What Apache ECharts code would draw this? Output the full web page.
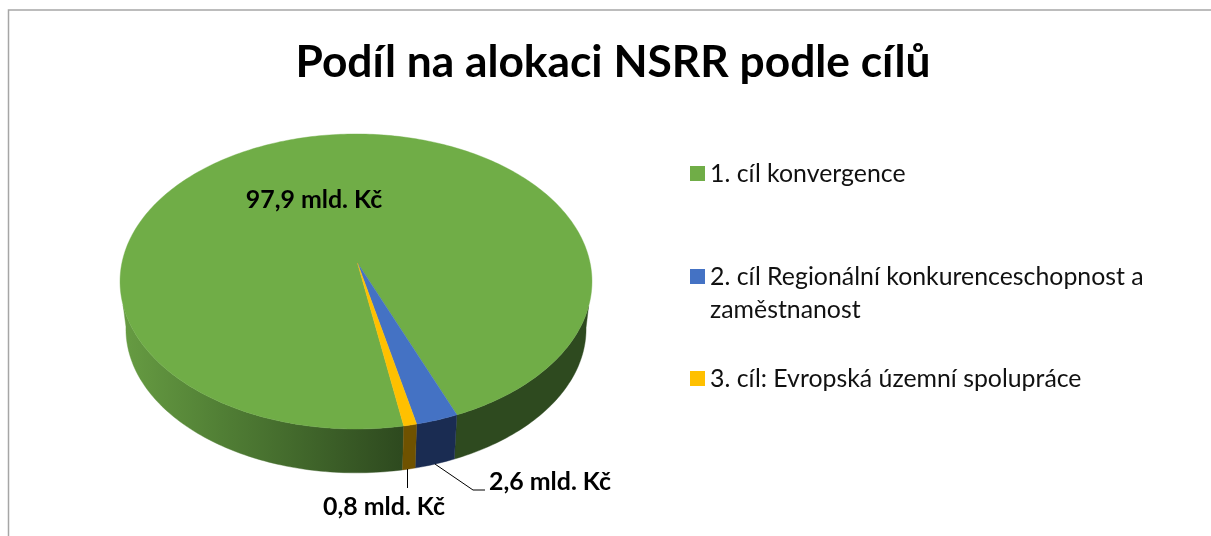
<!DOCTYPE html>
<html>
<head>
<meta charset="utf-8">
<style>
  html, body { margin: 0; padding: 0; background: #fff; }
  #chart { width: 1211px; height: 536px; }
</style>
<script src="https://cdn.jsdelivr.net/npm/echarts@6/dist/echarts.min.js"></script>
</head>
<body>
<div id="chart"></div>
<script>
// data
const titleText = 'Podíl na alokaci NSRR podle cílů';
const categories = [
  '1. cíl konvergence',
  '2. cíl Regionální konkurenceschopnost a zaměstnanost',
  '3. cíl: Evropská územní spolupráce',
];
const values = [97.9, 2.6, 0.8];
const unit = ' mld. Kč';

// vzhled
const colors = ['#70AD47', '#4472C4', '#FFC000'];
const sideColors = [null, '#1A2C52', '#6F5200'];
const fontFamily = 'Lato, "Noto Sans", sans-serif';
const startAngle = 169.7; // prvni vysec, ve stupnich po smeru hodin od vrsku

// perspektiva kolacku
const pie = { cx: 356, apexX: 357.5, y0: 263, a: 234.1, b: 145.2, p: 0.1254, y0Bottom: 311, scaleBottom: 0.975 };

const frontness = (angle) => -Math.cos((angle * Math.PI) / 180);

const project = (angle, bottom) => {
  const rad = (angle * Math.PI) / 180;
  const X = Math.sin(rad);
  const Y = -Math.cos(rad);
  const d = 1 - pie.p * Y;
  const s = bottom ? pie.scaleBottom : 1;
  return [
    pie.cx + (s * pie.a * X) / d,
    (bottom ? pie.y0Bottom : pie.y0) + (s * pie.b * Y) / d,
  ];
};

const total = values.reduce((a, b) => a + b, 0);
const sliceAngles = values.map((v, i) => {
  const before = values.slice(0, i).reduce((a, b) => a + b, 0);
  return [startAngle + (before / total) * 360, startAngle + ((before + v) / total) * 360];
});

const arcAngles = (from, to) => {
  const res = [];
  for (let t = from; t < to; t += 1) res.push(t);
  res.push(to);
  return res;
};

// bocni stena jen tam, kde je videt (predni cast)
const sideParts = (from, to) => {
  const parts = [];
  let cur = [];
  arcAngles(from, to).forEach((t) => {
    if (frontness(t) > 0.1) {
      cur.push(t);
    } else if (cur.length) {
      parts.push(cur);
      cur = [];
    }
  });
  if (cur.length) parts.push(cur);
  return parts;
};

const greenSide = new echarts.graphic.LinearGradient(125, 0, 400, 0, [
  { offset: 0, color: '#669B42' },
  { offset: 0.35, color: '#517F35' },
  { offset: 1, color: '#2E4A1F' },
], true);

const labelText = (v) => v.toFixed(1).replace('.', ',') + unit;

const labelStyle = [
  { x: 314, y: 200, line: null },
  { x: 550, y: 482, line: (p) => [p, [473, 490], [485, 490]] },
  { x: 384, y: 507, line: (p) => [[407.5, p[1]], [407.5, 488]] },
];

const renderSlice = (index) => () => {
  const [from, to] = sliceAngles[index];
  const children = [];

  sideParts(from, to).forEach((part) => {
    // horni hrana konci driv nez dolni, silueta po stranach je rovna
    const pts = part.filter((t) => frontness(t) > 0.28).map((t) => project(t, false))
      .concat(part.slice().reverse().map((t) => project(t, true)));
    const fill = sideColors[index] || greenSide;
    children.push({
      type: 'polygon',
      z2: 1,
      shape: { points: pts },
      style: { fill, stroke: fill, lineWidth: 0.4 },
    });
  });

  const top = [[pie.apexX, pie.y0]].concat(arcAngles(from, to).map((t) => project(t, false)));
  children.push({
    type: 'polygon',
    z2: 2,
    shape: { points: top },
    style: { fill: colors[index], stroke: colors[index], lineWidth: 0.4 },
  });

  const lab = labelStyle[index];
  if (lab.line) {
    children.push({
      type: 'polyline',
      z2: 3,
      shape: { points: lab.line(project((from + to) / 2, true)) },
      style: { fill: null, stroke: '#000', lineWidth: 1 },
    });
  }
  children.push({
    type: 'text',
    z2: 4,
    x: lab.x,
    y: lab.y,
    style: {
      text: labelText(values[index]),
      fill: '#000',
      font: `bold 24.9px ${fontFamily}`,
      align: 'center',
      verticalAlign: 'middle',
    },
  });
  return { type: 'group', children };
};

const legendTops = [157, 227, 362];

const chart = echarts.init(document.getElementById('chart'), null, { renderer: 'canvas' });
chart.setOption({
  animation: false,
  backgroundColor: '#fff',
  title: {
    text: titleText,
    left: 608,
    top: 36,
    textAlign: 'center',
    textStyle: { fontFamily, fontWeight: 'bold', fontSize: 44.3, color: '#000' },
  },
  legend: categories.map((name, i) => ({
    data: [name],
    orient: 'vertical',
    left: 690,
    top: legendTops[i],
    padding: 0,
    icon: 'rect',
    itemWidth: 15,
    itemHeight: 15,
    itemGap: 0,
    selectedMode: false,
    // dlouha polozka se lame na dva radky, znacka zustava u prvniho
    formatter: (n) => (i === 1 ? '\n' + n.replace(' zaměstnanost', '\nzaměstnanost') : n),
    textStyle: {
      fontFamily,
      fontSize: 24.85,
      color: '#111',
      lineHeight: 33,
    },
  })),
  graphic: [
    {
      type: 'polyline',
      silent: true,
      shape: { points: [[8.5, 600], [8.5, 10], [1300, 10]] },
      style: { fill: null, stroke: '#A6A6A6', lineWidth: 1.5 },
    },
  ],
  series: categories.map((name, i) => ({
    type: 'custom',
    name,
    coordinateSystem: 'none',
    itemStyle: { color: colors[i] },
    data: [[values[i]]],
    renderItem: renderSlice(i),
  })),
});
</script>
</body>
</html>
